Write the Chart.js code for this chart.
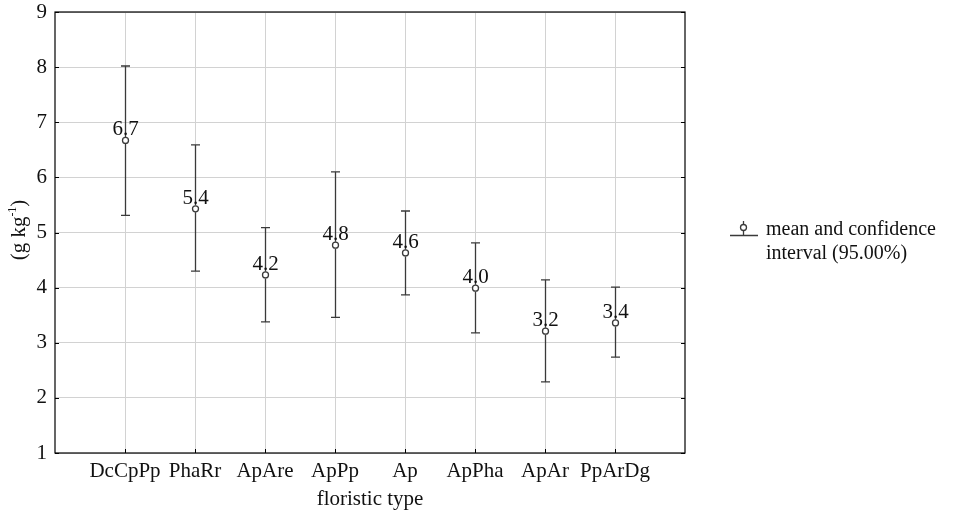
<!DOCTYPE html>
<html>
<head>
<meta charset="utf-8">
<script src="https://cdn.jsdelivr.net/npm/chart.js@4.4.0/dist/chart.umd.min.js"></script>
<style>
html,body{margin:0;padding:0;background:#fff;}
#wrap{width:953px;height:513px;position:relative;}
</style>
</head>
<body>
<div id="wrap"><canvas id="c" width="953" height="513"></canvas></div>
<script>
const categories = ["DcCpPp","PhaRr","ApAre","ApPp","Ap","ApPha","ApAr","PpArDg"];
const means = [6.67, 5.43, 4.23, 4.77, 4.63, 3.99, 3.21, 3.36];
const meanLabels = ["6.7","5.4","4.2","4.8","4.6","4.0","3.2","3.4"];
const upper = [8.02, 6.59, 5.09, 6.10, 5.39, 4.81, 4.14, 4.01];
const lower = [5.31, 4.30, 3.38, 3.46, 3.87, 3.18, 2.29, 2.74];
const yTicks = [1,2,3,4,5,6,7,8,9];

const FONT = "'Liberation Serif','Times New Roman',serif";
const INK = "#3a3a3a";

const overlay = {
  id: 'overlay',
  afterDatasetsDraw(chart) {
    const ctx = chart.ctx, xs = chart.scales.x, ys = chart.scales.y, a = chart.chartArea;
    ctx.save();
    ctx.strokeStyle = '#000'; ctx.lineWidth = 1.2;
    ctx.strokeRect(a.left, a.top, a.right - a.left, a.bottom - a.top);
    ctx.lineWidth = 1;
    yTicks.forEach(v => {
      const y = Math.round(ys.getPixelForValue(v)) + 0.5;
      ctx.beginPath(); ctx.moveTo(a.left, y); ctx.lineTo(a.left + 4, y);
      ctx.moveTo(a.right, y); ctx.lineTo(a.right - 4, y); ctx.stroke();
    });
    categories.forEach((c, i) => {
      const x = Math.round(xs.getPixelForValue(i + 1)) + 0.5;
      ctx.beginPath(); ctx.moveTo(x, a.bottom); ctx.lineTo(x, a.bottom - 4); ctx.stroke();
    });
    ctx.strokeStyle = INK; ctx.lineWidth = 1.3;
    categories.forEach((c, i) => {
      const x = Math.round(xs.getPixelForValue(i + 1)) + 0.5;
      const yu = ys.getPixelForValue(upper[i]);
      const yl = ys.getPixelForValue(lower[i]);
      const ym = ys.getPixelForValue(means[i]);
      ctx.beginPath();
      ctx.moveTo(x, yu); ctx.lineTo(x, ym - 3.5);
      ctx.moveTo(x, ym + 3.5); ctx.lineTo(x, yl);
      ctx.moveTo(x - 4.5, yu); ctx.lineTo(x + 4.5, yu);
      ctx.moveTo(x - 4.5, yl); ctx.lineTo(x + 4.5, yl);
      ctx.stroke();
      ctx.beginPath(); ctx.arc(x, ym, 3, 0, Math.PI * 2);
      ctx.fillStyle = '#fff'; ctx.fill(); ctx.stroke();
      ctx.fillStyle = '#111'; ctx.font = '21px ' + FONT;
      ctx.textAlign = 'center'; ctx.textBaseline = 'alphabetic';
      ctx.fillText(meanLabels[i], x, ym - 5);
    });
    ctx.save();
    ctx.translate(25, 230);
    ctx.rotate(-Math.PI / 2);
    ctx.fillStyle = '#111';
    ctx.textBaseline = 'alphabetic'; ctx.textAlign = 'left';
    const p1 = '(g kg', sup = '-1', p2 = ')';
    ctx.font = '21px ' + FONT; const w1 = ctx.measureText(p1).width; const w3 = ctx.measureText(p2).width;
    ctx.font = '12px ' + FONT; const w2 = ctx.measureText(sup).width;
    let sx = -(w1 + w2 + w3) / 2;
    ctx.font = '21px ' + FONT; ctx.fillText(p1, sx, 0); sx += w1;
    ctx.font = '12px ' + FONT; ctx.fillText(sup, sx, -9); sx += w2;
    ctx.font = '21px ' + FONT; ctx.fillText(p2, sx, 0);
    ctx.restore();
    ctx.fillStyle = '#111'; ctx.font = '21px ' + FONT;
    ctx.textAlign = 'center'; ctx.textBaseline = 'middle';
    ctx.fillText('floristic type', (a.left + a.right) / 2, 499);
    ctx.strokeStyle = INK; ctx.lineWidth = 1.3;
    ctx.beginPath();
    ctx.moveTo(730, 235.5); ctx.lineTo(758, 235.5);
    ctx.moveTo(743.5, 221); ctx.lineTo(743.5, 224.5);
    ctx.moveTo(743.5, 230.5); ctx.lineTo(743.5, 235.5);
    ctx.stroke();
    ctx.beginPath(); ctx.arc(743.5, 227.5, 3, 0, Math.PI * 2); ctx.stroke();
    ctx.fillStyle = '#111'; ctx.textAlign = 'left'; ctx.textBaseline = 'middle';
    ctx.font = '20px ' + FONT;
    ctx.fillText('mean and confidence', 766, 230);
    ctx.fillText('interval (95.00%)', 766, 254);
    ctx.restore();
  }
};

new Chart(document.getElementById('c'), {
  type: 'scatter',
  data: {
    datasets: [{
      label: 'mean',
      data: means.map((m, i) => ({x: i + 1, y: m})),
      pointRadius: 0,
      showLine: false
    }]
  },
  options: {
    responsive: false,
    animation: false,
    layout: {padding: {left: 0, right: 268, top: 12, bottom: 0}},
    plugins: {legend: {display: false}, tooltip: {enabled: false}},
    scales: {
      x: {
        type: 'linear', min: 0, max: 9,
        afterFit(s) { s.height = 60; s.paddingLeft = 0; s.paddingRight = 0; },
        afterBuildTicks(s) { s.ticks = categories.map((c, i) => ({value: i + 1})); },
        ticks: {
          autoSkip: false, maxRotation: 0,
          color: '#111', font: {family: FONT, size: 21}, padding: 6,
          callback: (v) => categories[v - 1] || ''
        },
        grid: {color: '#d2d2d2', lineWidth: 1, drawTicks: false},
        border: {display: false}
      },
      y: {
        min: 1, max: 9,
        afterFit(s) { s.width = 55; s.paddingTop = 0; s.paddingBottom = 0; },
        afterBuildTicks(s) { s.ticks = yTicks.map(v => ({value: v})); },
        ticks: {color: '#111', font: {family: FONT, size: 21}, padding: 8},
        grid: {color: '#d2d2d2', lineWidth: 1, drawTicks: false},
        border: {display: false}
      }
    }
  },
  plugins: [overlay]
});
</script>
</body>
</html>
